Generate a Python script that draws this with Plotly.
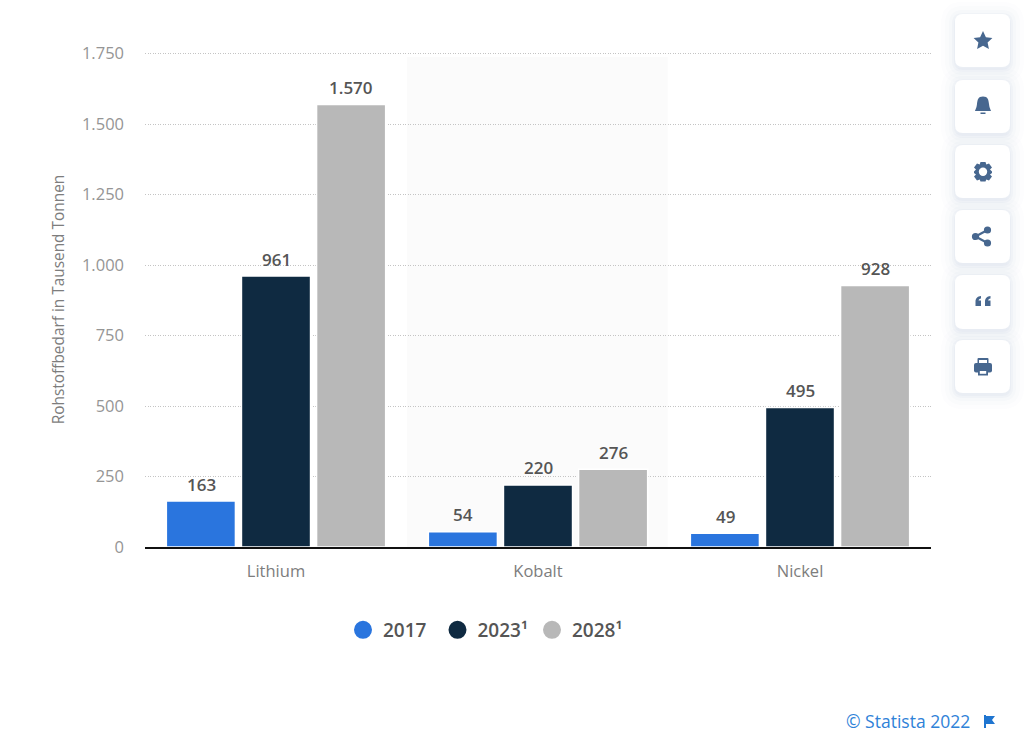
import plotly.graph_objects as go

categories = ["Lithium", "Kobalt", "Nickel"]
years = ["2017", "2023¹", "2028¹"]
values_2017 = [163, 54, 49]
values_2023 = [961, 220, 495]
values_2028 = [1570, 276, 928]
series_values = [values_2017, values_2023, values_2028]
colors = ["#2a75de", "#0f2a41", "#b8b8b8"]
y_ticks = [0, 250, 500, 750, 1000, 1250, 1500, 1750]

W, H = 1024, 737
ML, MR, MT, MB = 145, 93, 52, 190
FONT = "Open Sans"


def px(x):
    return (x - ML) / (W - ML - MR)


def py(y):
    return 1 - (y - MT) / (H - MT - MB)


def path(*parts):
    out = []
    for p in parts:
        if isinstance(p, str):
            out.append(p)
        else:
            out.append(f"{px(p[0]):.5f},{py(p[1]):.5f}")
    return " ".join(out)


def rrect(x0, y0, x1, y1, r):
    return path("M", (x0 + r, y0), "L", (x1 - r, y0), "Q", (x1, y0), (x1, y0 + r),
                "L", (x1, y1 - r), "Q", (x1, y1), (x1 - r, y1),
                "L", (x0 + r, y1), "Q", (x0, y1), (x0, y1 - r),
                "L", (x0, y0 + r), "Q", (x0, y0), (x0 + r, y0), "Z")


def poly(points):
    parts = ["M", points[0]]
    for p in points[1:]:
        parts += ["L", p]
    parts.append("Z")
    return path(*parts)


def pshape(d, color, opacity=1.0):
    return dict(type="path", xref="paper", yref="paper", path=d, fillcolor=color,
                opacity=opacity, line=dict(width=0), layer="above")


def circle(cx, cy, r, color):
    return dict(type="circle", xref="paper", yref="paper", x0=px(cx - r), x1=px(cx + r),
                y0=py(cy + r), y1=py(cy - r), fillcolor=color, line=dict(width=0), layer="above")


def rect(x0, y0, x1, y1, color):
    return dict(type="rect", xref="paper", yref="paper", x0=px(x0), x1=px(x1),
                y0=py(y1), y1=py(y0), fillcolor=color, line=dict(width=0), layer="above")


fig = go.Figure()
for name, vals, color in zip(years, series_values, colors):
    fig.add_trace(go.Bar(x=categories, y=vals, name=name,
                         marker=dict(color=color, line=dict(width=1.5, color="#ffffff")),
                         legendgroup=name, showlegend=False, hoverinfo="x+y+name"))
for name, color in zip(years, colors):
    fig.add_trace(go.Scatter(x=[None], y=[None], mode="markers", name=name, legendgroup=name,
                             marker=dict(color=color, size=16, symbol="circle", line=dict(width=2, color=color)),
                             showlegend=True))

annotations = []
step = 75
for i, (vals, name) in enumerate(zip(series_values, years)):
    for cat, v in zip(categories, vals):
        annotations.append(dict(x=cat, y=v, xref="x", yref="y", xshift=(i - 1) * step, yshift=3.5,
                                yanchor="bottom", showarrow=False,
                                text=f"{v:,}".replace(",", "."),
                                font=dict(family=FONT, size=17, color="#555555", weight=600)))
annotations.append(dict(xref="paper", yref="paper", x=px(972), y=py(721), xanchor="right", yanchor="middle",
                        showarrow=False, text="© Statista 2022",
                        font=dict(family=FONT, size=17.5, color="#2f82d8")))

shapes = [dict(type="rect", xref="x", yref="paper", x0=0.5, x1=1.495, y0=0, y1=0.99,
               fillcolor="#fbfbfb", line=dict(width=0), layer="below")]

# Flag in the footer
shapes.append(pshape(poly([(984, 715), (986, 715), (986, 716), (995, 716), (992, 720), (995, 724),
                           (986, 724), (986, 728), (984, 728)]), "#1f75d0"))

# Side toolbar
ICON = "#47678f"
cards = [(14, 67), (80, 133), (145, 198), (210, 263), (275, 329), (340, 393)]
for y0, y1 in cards:
    for grow, op in [(14, 0.012), (10, 0.015), (6, 0.02), (3, 0.03), (1, 0.03)]:
        shapes.append(pshape(rrect(955 - grow, y0 - grow + 2, 1010 + grow, y1 + grow + 2, 8 + grow), "#4a6a90", op))
for y0, y1 in cards:
    shapes.append(pshape(rrect(955, y0, 1010, y1, 8), "#ffffff"))

# star
shapes.append(pshape(poly([(983, 31), (985.9, 37.2), (992.4, 38), (987.6, 42.5), (988.9, 49),
                           (983, 45.8), (977.1, 49), (978.4, 42.5), (973.6, 38), (980.1, 37.2)]), ICON))
# bell
shapes.append(pshape(path("M", (983, 96.5), "C", (978, 96.5), (977.5, 100), (977, 104), "C", (976.6, 108), (975.5, 109),
                          (975, 111), "L", (991, 111), "C", (990.5, 109), (989.4, 108), (989, 104), "C", (988.5, 100),
                          (988, 96.5), (983, 96.5), "Z"), ICON))
shapes.append(rect(980.5, 112.5, 985.5, 114, ICON))
# gear
shapes.append(pshape(poly([(980.5, 162), (985.5, 162), (986.3, 164.6), (989, 163.5), (992, 167.5), (990, 169.5),
                           (992, 171.5), (992, 173), (990, 174.5), (992, 176.5), (989, 180.5), (986.3, 179.5),
                           (985.5, 181.5), (980.5, 181.5), (979.7, 179.5), (977, 180.5), (974, 176.5), (976, 174.5),
                           (974, 173), (974, 171.5), (976, 169.5), (974, 167.5), (977, 163.5), (979.7, 164.6)]), ICON))
shapes.append(circle(983, 171.8, 4.2, "#ffffff"))
# share
for cx, cy in [(987.5, 230), (975.5, 236.5), (987.5, 243)]:
    shapes.append(circle(cx, cy, 3.6, ICON))
shapes.append(pshape(poly([(987, 229), (988, 231), (976, 237.5), (975, 235.5)]), ICON))
shapes.append(pshape(poly([(976, 235.5), (988, 242), (987, 244), (975, 237.5)]), ICON))
# quotes
for dx in (0, 9.5):
    shapes.append(pshape(path("M", (975.5 + dx, 302), "C", (975.5 + dx, 298), (977.5 + dx, 296.5), (981 + dx, 296),
                              "L", (981 + dx, 298.5), "C", (979.5 + dx, 298.8), (978.8 + dx, 299.3), (978.6 + dx, 300.5),
                              "L", (981 + dx, 300.5), "L", (981 + dx, 306), "L", (975.5 + dx, 306), "Z"), ICON))
# printer
shapes.append(pshape(rrect(977.5, 358, 988.5, 365, 1), ICON))
shapes.append(pshape(rrect(974, 363, 992, 372.5, 2), ICON))
shapes.append(rect(978, 370, 988, 375.5, ICON))
shapes.append(rect(979.8, 371, 986.2, 373.8, "#ffffff"))
shapes.append(rect(979, 360, 987, 363, "#ffffff"))

fig.update_layout(
    width=W, height=H, margin=dict(l=ML, r=MR, t=MT, b=MB, autoexpand=False),
    paper_bgcolor="#ffffff", plot_bgcolor="rgba(0,0,0,0)",
    barmode="group", bargap=0.14, bargroupgap=0.08,
    separators=",.",
    font=dict(family=FONT, color="#8c8c8c", size=16),
    showlegend=True,
    legend=dict(orientation="h", x=px(343), xanchor="left", y=py(630), yanchor="middle",
                entrywidth=49.5, entrywidthmode="pixels",
                font=dict(family=FONT, size=19, color="#555555", weight=600),
                bgcolor="rgba(0,0,0,0)", itemclick=False, itemdoubleclick=False),
    annotations=annotations, shapes=shapes,
    xaxis=dict(type="category", categoryorder="array", categoryarray=categories, range=[-0.5, 2.5],
               showgrid=False, showline=True, linecolor="#111111", linewidth=1.5, ticks="",
               ticklabelstandoff=8, tickfont=dict(family=FONT, size=16.5, color="#7d7d7d")),
    yaxis=dict(range=[0, 1756], tickvals=y_ticks, tickformat=",d", showgrid=True, gridcolor="#c4c4c4",
               griddash="1px,1.5px", gridwidth=1, zeroline=False, showline=False, ticks="",
               ticklabelstandoff=20, tickfont=dict(family=FONT, size=16.5, color="#959595"),
               title=dict(text="Rohstoffbedarf in Tausend Tonnen", standoff=13,
                          font=dict(family=FONT, size=15.4, color="#7d7d7d"))),
)

fig.write_html("out.html", post_script="document.body.style.margin='0';document.body.style.overflow='hidden';",
               config=dict(displayModeBar=False))
